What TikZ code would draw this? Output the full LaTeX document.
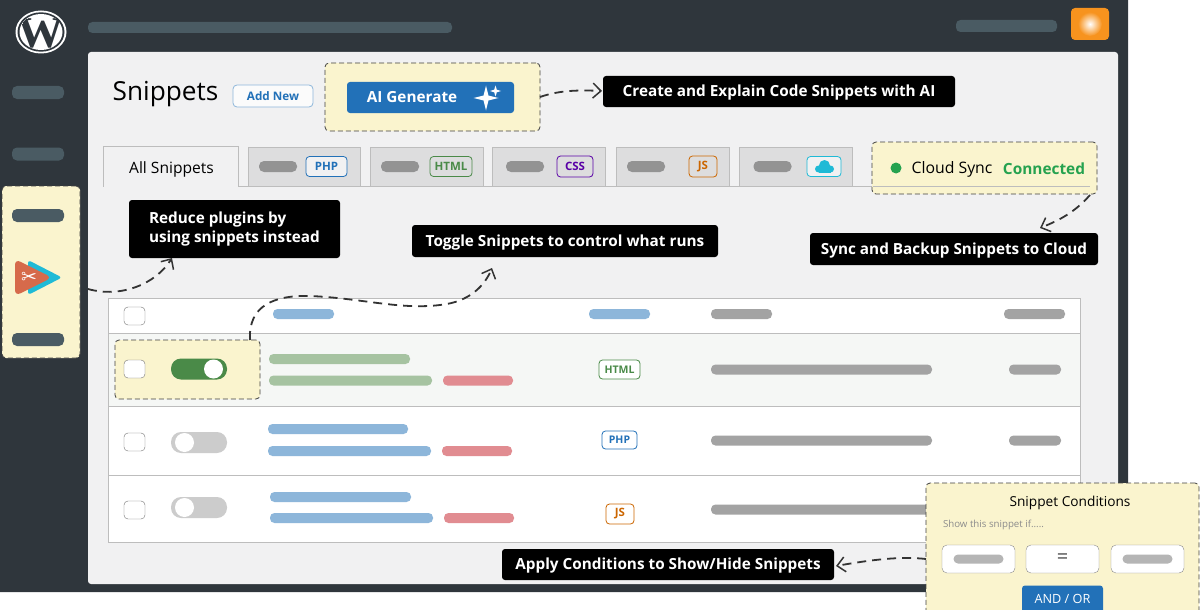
\documentclass[tikz,border=0pt]{standalone}
\usepackage{fontspec}
\setmainfont{Open Sans}
\newfontfamily\logofont{Liberation Serif}
\newfontfamily\symbfont{DejaVu Sans}
\usepackage{xcolor}
\usetikzlibrary{arrows.meta, shapes.geometric}

\definecolor{frame}{HTML}{2F363C}
\definecolor{panel}{HTML}{F1F1F2}
\definecolor{slate}{HTML}{4A5B63}
\definecolor{note}{HTML}{FAF4CE}
\definecolor{wpblue}{HTML}{2271B8}
\definecolor{barblue}{HTML}{8DB6DA}
\definecolor{bargreen}{HTML}{A6C3A1}
\definecolor{barred}{HTML}{E18C91}
\definecolor{bargray}{HTML}{A3A3A3}
\definecolor{tabgray}{HTML}{DDDDDE}
\definecolor{rule}{HTML}{BDBDBD}
\definecolor{okgreen}{HTML}{25A24F}
\definecolor{togglegreen}{HTML}{4A8A48}
\definecolor{skyblue}{HTML}{1FBAD6}
\definecolor{clay}{HTML}{D66A4B}
\definecolor{amber}{HTML}{F7931E}

\tikzset{
    box/.style={draw=none, rectangle, inner sep=0pt, outer sep=0pt},
    bar/.style={box, rounded corners=4.5pt, minimum height=10pt},
    tabbox/.style={box, draw=rule, fill=tabgray, minimum height=39pt},
    tag/.style={box, draw, thick, rounded corners=3.5pt, font=\fontsize{11.5}{12}\selectfont\bfseries},
    callout/.style={box, fill=black, rounded corners=3pt, text=white, font=\fontsize{15.3}{19}\selectfont\bfseries},
    oneline/.style={text height=10.9pt, text depth=0pt},
    spot/.style={box, draw=black!75, line width=0.8pt, dash pattern=on 5pt off 3pt, fill=note, rounded corners=4pt},
    check/.style={box, draw=black!55, fill=white, rounded corners=4pt, minimum width=21pt, minimum height=18pt},
    field/.style={box, draw=black!45, fill=white, rounded corners=5pt, minimum width=73pt, minimum height=28pt},
    row/.style={box, draw=rule, minimum width=972pt},
    switch/.style={box, rounded corners=10pt, minimum width=56pt, minimum height=21pt},
    knob/.style={box, circle, fill=white, minimum size=19pt},
    flow/.style={draw=black!80, line width=1.8pt, dash pattern=on 9pt off 6pt, -{Straight Barb[length=8pt, width=15pt, line width=1.5pt]}},
}

\begin{document}
\begin{tikzpicture}[x=1pt, y=-1pt]
    \useasboundingbox (0, 0) rectangle (1200, 610);

    % window
    \fill[frame, rounded corners=4pt] (-10, -10) rectangle (1128, 592);
    \node[box, fill=panel, rounded corners=3pt, minimum width=1030pt, minimum height=532pt] (panel) at (603, 318) {};
    \node[bar, fill=slate, minimum width=364pt, minimum height=11pt] (topbar) at (270, 27.5) {};
    \node[bar, fill=slate, minimum width=101pt, minimum height=12pt] (userbar) at (1006.5, 26) {};
    \node[box, fill=amber, rounded corners=4pt, minimum width=38pt, minimum height=32pt] (avatar) at (1090, 24) {};
    \node[box, circle, minimum size=24pt, inner color=white, outer color=amber] (glow) at (avatar) {};

    % logo
    \fill[white] (41, 32) ellipse (25.5 and 21.5);
    \fill[frame] (41, 32) ellipse (23.5 and 19.7);
    \fill[white] (41, 32) ellipse (21.5 and 18);
    \begin{scope}
        \clip (41, 32) ellipse (21.5 and 18);
        \node[box, text=frame, xscale=1.05, font=\fontsize{44}{44}\logofont\bfseries] (logo) at (41, 33.5) {W};
    \end{scope}

    % sidebar
    \node[bar, fill=slate, minimum width=52pt, minimum height=13pt, rounded corners=5pt] (nav1) at (38, 92.5) {};
    \node[bar, fill=slate, minimum width=52pt, minimum height=13pt, rounded corners=5pt] (nav2) at (38, 154) {};
    \node[spot, minimum width=78pt, minimum height=172pt] (side) at (41, 272) {};
    \node[bar, fill=slate, minimum width=52pt, minimum height=13pt, rounded corners=5pt] (nav3) at (38, 215.5) {};
    \node[bar, fill=slate, minimum width=52pt, minimum height=13pt, rounded corners=5pt] (nav4) at (38, 339.5) {};
    \fill[skyblue, rounded corners=3pt] (28, 260) -- (62, 277.5) -- (28, 295) -- cycle;
    \fill[clay, rounded corners=6pt] (15, 259) -- (52, 277.5) -- (15, 296) -- cycle;
    \node[box, text=white, font=\fontsize{19}{19}\symbfont] (scissors) at (29, 277.5) {\char"2702};

    % header
    \node[box, font=\fontsize{26.2}{26}\selectfont] (title) at (165.5, 94.5) {Snippets};
    \node[box, draw=barblue, line width=0.8pt, fill=white!70!panel, rounded corners=4pt, text=wpblue, minimum width=80pt, minimum height=22pt, font=\fontsize{11.7}{12}\selectfont\bfseries] (addnew) at (273, 96) {Add New};
    \node[spot, minimum width=215pt, minimum height=68pt] (aibox) at (432.5, 97) {};
    \node[box, fill=wpblue, rounded corners=3pt, minimum width=167pt, minimum height=31pt] (aibtn) at (430.5, 97.5) {};
    \node[box, text=white, font=\fontsize{15.3}{15}\selectfont\bfseries] (ailabel) at (412, 97.5) {AI Generate};
    \node[box, star, star points=4, star point ratio=3.6, fill=white, minimum size=25pt] (spark1) at (486, 98) {};
    \node[box, star, star points=4, star point ratio=3, fill=white, minimum size=11pt] (spark2) at (495.5, 91) {};
    \node[callout, oneline, minimum width=352pt, minimum height=31pt] (aitext) at (779, 91.5) {Create and Explain Code Snippets with AI};

    % tabs
    \draw[rule] (103, 186) -- (872, 186);
    \node[box, draw=rule, fill=panel, minimum width=135pt, minimum height=40pt] (taball) at (170.5, 166) {};
    \fill[panel] (104, 184) rectangle (237.5, 187.5);
    \node[box, font=\fontsize{15.6}{15}\selectfont] (alltext) at (171.5, 169) {All Snippets};
    \node[tabbox, minimum width=112pt] (tab1) at (304, 166.5) {};
    \node[tabbox, minimum width=113pt] (tab2) at (426.5, 166.5) {};
    \node[tabbox, minimum width=113pt] (tab3) at (549, 166.5) {};
    \node[tabbox, minimum width=113pt] (tab4) at (672.5, 166.5) {};
    \node[tabbox, minimum width=113pt] (tab5) at (795.5, 166.5) {};
    \foreach \x in {278, 400, 525, 646, 772.5}
        \fill[bargray!90!black, rounded corners=5pt] (\x-19, 161) rectangle (\x+19, 172);
    \node[tag, draw=wpblue, fill=white!60!tabgray, text=wpblue, minimum width=41pt, minimum height=20pt] (tagphp) at (326.5, 166.5) {PHP};
    \node[tag, draw=togglegreen, text=togglegreen, minimum width=42pt, minimum height=20pt] (taghtml) at (451, 166.5) {HTML};
    \node[tag, draw=violet!70!blue, text=violet!70!blue, minimum width=36pt, minimum height=21pt] (tagcss) at (575, 166.5) {CSS};
    \node[tag, draw=orange!80!black, text=orange!80!black, minimum width=28pt, minimum height=21pt] (tagjs) at (703, 166.5) {JS};
    \node[tag, draw=skyblue, fill=white!60!tabgray, minimum width=34pt, minimum height=20pt] (tagcloud) at (824, 166.5) {};
    \fill[skyblue] (824.5, 165.5) circle (5.5);
    \fill[skyblue] (818.5, 169) circle (3.5);
    \fill[skyblue] (830.5, 169) circle (3.5);
    \fill[skyblue] (818.5, 168) rectangle (830.5, 172.5);

    % cloud sync
    \node[spot, minimum width=225pt, minimum height=52pt] (syncbox) at (984.5, 168) {};
    \draw[rule] (873, 186) -- (1090, 186);
    \node[box, circle, fill=okgreen, minimum size=11pt] (syncdot) at (896, 168) {};
    \node[box, font=\fontsize{15.8}{15}\selectfont] (synctext) at (952, 169) {Cloud Sync};
    \node[box, text=okgreen, font=\fontsize{15.4}{15}\selectfont\bfseries] (syncstate) at (1044, 169) {Connected};
    \node[callout, oneline, minimum width=288pt, minimum height=32pt] (synclabel) at (954, 249) {Sync and Backup Snippets to Cloud};

    % callouts
    \node[callout, align=left, minimum width=211pt, minimum height=58pt] (plugins) at (234.5, 229) {Reduce plugins by\\using snippets instead};
    \node[callout, oneline, minimum width=306pt, minimum height=32pt] (toggles) at (565, 241) {Toggle Snippets to control what runs};

    % table
    \node[row, fill=white, minimum height=35pt] (row0) at (594, 315.5) {};
    \node[row, fill=green!20!black!4, minimum height=73pt] (row1) at (594, 369.5) {};
    \node[row, fill=white, minimum height=69pt] (row2) at (594, 440.5) {};
    \node[row, fill=white, minimum height=67pt] (row3) at (594, 508.5) {};
    \node[spot, minimum width=145pt, minimum height=59pt] (rowspot) at (187.5, 369.5) {};

    \node[check] (check0) at (134.5, 316) {};
    \node[check] (check1) at (134.5, 369) {};
    \node[check] (check2) at (134.5, 442) {};
    \node[check] (check3) at (134.5, 510) {};

    \node[switch, fill=togglegreen] (switch1) at (199, 369) {};
    \node[knob] (knob1) at (213.5, 369) {};
    \node[switch, fill=black!20] (switch2) at (199, 442.5) {};
    \node[knob] (knob2) at (184.5, 442.5) {};
    \node[switch, fill=black!20] (switch3) at (199, 507.5) {};
    \node[knob] (knob3) at (184.5, 507.5) {};

    % header row bars
    \node[bar, fill=barblue, minimum width=61pt] (head1) at (303.5, 314) {};
    \node[bar, fill=barblue, minimum width=61pt] (head2) at (619.5, 314) {};
    \node[bar, fill=bargray, minimum width=61pt] (head3) at (741.5, 314) {};
    \node[bar, fill=bargray, minimum width=61pt] (head4) at (1034.5, 314) {};

    % row bars
    \node[bar, fill=bargreen, minimum width=141pt] (name1) at (339.5, 359) {};
    \node[bar, fill=bargreen, minimum width=163pt] (desc1) at (350.5, 380.5) {};
    \node[bar, fill=barred, minimum width=70pt] (tags1) at (478, 380.5) {};
    \node[bar, fill=barblue, minimum width=140pt] (name2) at (338, 429) {};
    \node[bar, fill=barblue, minimum width=163pt] (desc2) at (349.5, 451) {};
    \node[bar, fill=barred, minimum width=70pt] (tags2) at (477, 451) {};
    \node[bar, fill=barblue, minimum width=141pt] (name3) at (340.5, 497) {};
    \node[bar, fill=barblue, minimum width=163pt] (desc3) at (351.5, 518) {};
    \node[bar, fill=barred, minimum width=70pt] (tags3) at (479, 518) {};

    \node[tag, draw=togglegreen, text=togglegreen, fill=white, minimum width=41pt, minimum height=19pt, font=\fontsize{10.5}{10}\selectfont\bfseries] (rowhtml) at (619.5, 369.5) {HTML};
    \node[tag, draw=wpblue, text=wpblue, fill=white, minimum width=35pt, minimum height=18pt, font=\fontsize{10.5}{10}\selectfont\bfseries] (rowphp) at (619.5, 440) {PHP};
    \node[tag, draw=orange!80!black, text=orange!80!black, fill=white, minimum width=28pt, minimum height=20pt, font=\fontsize{11.5}{11}\selectfont\bfseries] (rowjs) at (620, 514) {JS};

    \node[bar, fill=bargray, minimum width=221pt] (code1) at (821.5, 369.5) {};
    \node[bar, fill=bargray, minimum width=52pt] (date1) at (1035, 369.5) {};
    \node[bar, fill=bargray, minimum width=221pt] (code2) at (821.5, 440.5) {};
    \node[bar, fill=bargray, minimum width=52pt] (date2) at (1035, 440.5) {};
    \node[bar, fill=bargray, minimum width=221pt] (code3) at (821.5, 509.5) {};

    % conditions
    \node[callout, oneline, minimum width=332pt, minimum height=31pt] (condlabel) at (668, 564.5) {Apply Conditions to Show/Hide Snippets};
    \begin{scope}
        \clip (0, 0) rectangle (1200, 610);
        \node[spot, minimum width=273pt, minimum height=140pt] (condbox) at (1062.5, 553) {};
        \node[box, fill=wpblue, rounded corners=3pt, text=white, minimum width=81pt, minimum height=30pt, font=\fontsize{12.7}{12}\selectfont] (andor) at (1062.5, 600.5) {\raisebox{4pt}{AND / OR}};
    \end{scope}
    \node[box, font=\fontsize{13.7}{13}\selectfont] (condtitle) at (1070, 503) {Snippet Conditions};
    \node[box, text=black!45, font=\fontsize{9.7}{9}\selectfont] (condhint) at (993.5, 525) {Show this snippet if.....};
    \node[field] (field1) at (978.5, 559) {};
    \node[field, font=\fontsize{20}{18}\selectfont, text=black!70] (field2) at (1062.5, 559) {=};
    \node[field] (field3) at (1147.5, 559) {};
    \node[bar, fill=bargray!80, minimum width=50pt, minimum height=9pt] (fieldbar1) at (978.5, 559) {};
    \node[bar, fill=bargray!80, minimum width=50pt, minimum height=9pt] (fieldbar3) at (1147.5, 559) {};

    % connectors
    \coordinate (aistart) at (aibox.east);
    \coordinate (planend) at (172, 258);
    \coordinate (toggleend) at (492, 268);
    \coordinate (syncstart) at (1090, 195);
    \coordinate (syncend) at (1040, 228);
    \coordinate (aiend) at (602, 91);
    \coordinate (condend) at (836, 566);
    \coordinate (condstart) at (926, 559);
    \coordinate (sidestart) at (88, 289);
    \coordinate (spotstart) at (250, 340);

    \draw[flow] (aistart) .. controls (560, 90) and (580, 90) .. (aiend);
    \draw[flow] (sidestart) .. controls (120, 298) and (155, 285) .. (planend);
    \draw[flow] (spotstart) .. controls (248, 305) and (275, 295) .. (310, 296)
        .. controls (360, 298) and (400, 310) .. (440, 305) .. controls (470, 302) and (485, 285) .. (toggleend);
    \draw[flow] (syncstart) .. controls (1075, 212) and (1060, 220) .. (syncend);
    \draw[flow] (condstart) .. controls (900, 556) and (870, 560) .. (condend);
\end{tikzpicture}
\end{document}
